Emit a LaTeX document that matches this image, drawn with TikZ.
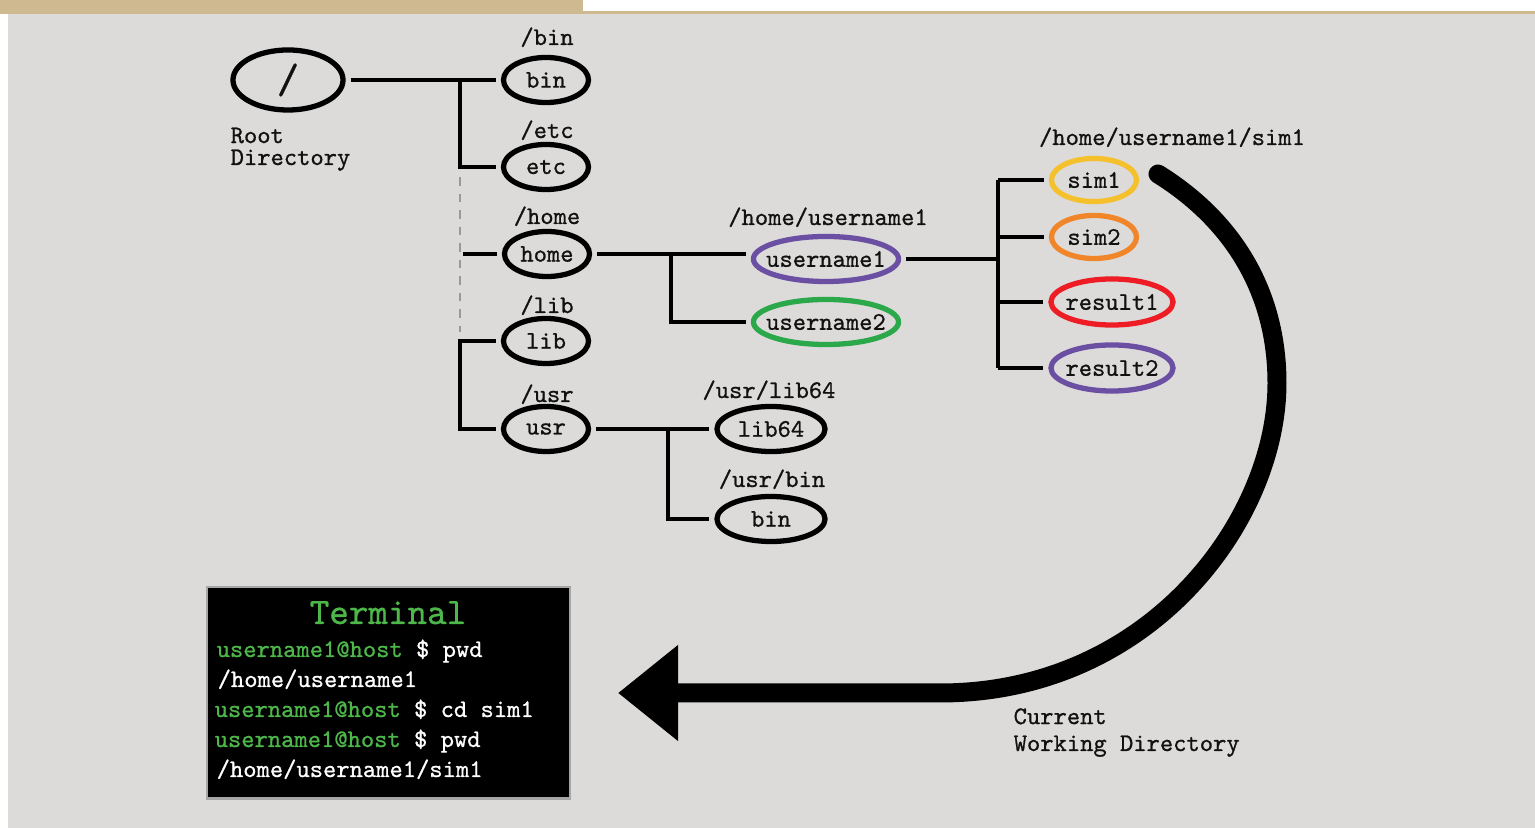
\documentclass[tikz,border=0pt]{standalone}
\usepackage{fontspec}
\newfontfamily\mono{lmmono10-regular.otf}[FakeBold=0.8]
\usetikzlibrary{shapes.geometric,arrows.meta}
\definecolor{bgray}{HTML}{DCDBD9}
\definecolor{tan}{HTML}{CFB991}
\definecolor{cyellow}{HTML}{F4C12C}
\definecolor{corange}{HTML}{F1852A}
\definecolor{cred}{HTML}{EE1C25}
\definecolor{cpurple}{HTML}{6A4FA3}
\definecolor{cgreen}{HTML}{2AA84A}
\definecolor{tgreen}{HTML}{4DB74A}
\definecolor{ink}{HTML}{111111}
\newcommand{\nt}[1]{\makebox[0pt]{#1}}
\tikzset{
  dirnode/.style={ellipse, draw=black, line width=1.5pt, inner sep=0pt,
    minimum width=0.85cm, minimum height=0.45cm, text=ink,
    font=\mono\fontsize{7.2}{8}\selectfont},
  conn/.style={line width=1pt, draw=black},
  tonode/.style={shorten >=0.05cm},
  fromnode/.style={shorten <=0.05cm},
  lbl/.style={anchor=base, inner sep=0pt, text=ink, font=\mono\fontsize{7.2}{8}\selectfont},
  termline/.style={anchor=base west, inner sep=0pt, text=white, font=\mono\fontsize{7.2}{8}\selectfont},
  dashline/.style={line width=0.6pt, draw=gray!80, dash pattern=on 2.5pt off 2.2pt},
  bigarrow/.style={line width=5.4pt, draw=black, line cap=round,
    -{Triangle[length=0.6cm,width=0.92cm]}},
}
\begin{document}
\begin{tikzpicture}[x=0.01cm, y=-0.01cm]
\useasboundingbox (0,0) rectangle (1535,828);
% background
\fill[white] (0,0) rectangle (1535,828);
\fill[bgray] (8,14) rectangle (1535,828);
\fill[tan] (0,0) rectangle (583,14);
\fill[tan] (583,11) rectangle (1535,14);

% nodes
\node[dirnode, minimum width=1.10cm, minimum height=0.60cm, font=\mono\fontsize{12}{12}\selectfont] (root) at (288,80) {\nt{/}};
\node[dirnode] (bin) at (546,80) {\nt{bin}};
\node[dirnode] (etc) at (546,167) {\nt{etc}};
\node[dirnode] (home) at (547,254) {\nt{home}};
\node[dirnode] (lib) at (546,341) {\nt{lib}};
\node[dirnode] (usr) at (546,429) {\nt{usr}};
\node[dirnode, draw=cpurple, minimum width=1.45cm] (u1) at (826,259) {\nt{username1}};
\node[dirnode, draw=cgreen, minimum width=1.45cm] (u2) at (826,322) {\nt{username2}};
\node[dirnode, minimum width=1.08cm] (lib64) at (771,429) {\nt{lib64}};
\node[dirnode, minimum width=1.08cm] (ubin) at (771,519) {\nt{bin}};
\node[dirnode, draw=cyellow, minimum height=0.43cm] (sim1) at (1094,180) {\nt{sim1}};
\node[dirnode, draw=corange, minimum height=0.43cm] (sim2) at (1094,237) {\nt{sim2}};
\node[dirnode, draw=cred, minimum width=1.22cm, minimum height=0.46cm] (res1) at (1112,302) {\nt{result1}};
\node[dirnode, draw=cpurple, minimum width=1.22cm, minimum height=0.46cm] (res2) at (1112,368) {\nt{result2}};

% path labels
\node[lbl] (lbin) at (547,45) {/bin};
\node[lbl] (letc) at (547,138) {/etc};
\node[lbl] (lhome) at (547,224) {/home};
\node[lbl] (llib) at (547,313) {/lib};
\node[lbl] (lusr) at (547,402) {/usr};
\node[lbl] (lu1) at (828,225) {/home/username1};
\node[lbl] (llib64) at (769,398) {/usr/lib64};
\node[lbl] (lubin) at (772,487) {/usr/bin};
\node[lbl] (lsim1) at (1172,145) {/home/username1/sim1};
\node[lbl, anchor=base west, align=left, font=\mono\fontsize{7.2}{6.24}\selectfont] (lroot) at (230,165) {Root\\Directory};

% connectors
\coordinate (jr) at (460,80);
\coordinate (d1) at (460,177);
\coordinate (d2) at (460,332);
\coordinate (jh) at (463,254);
\coordinate (jl) at (460,385);
\coordinate (ju) at (671,290);
\coordinate (jb) at (668,470);
\coordinate (js) at (998,270);

\draw[conn, tonode, fromnode] (root.east) -- (bin.west);
\draw[conn, tonode] (jr) |- (etc.west);
\draw[dashline] (d1) -- (d2);
\draw[conn, tonode] (jh) -- (home.west);
\draw[conn, tonode, fromnode] (lib.west) -| (jl) |- (usr.west);
\draw[conn, fromnode, tonode] (home.east) -- (home.east -| u1.west);
\draw[conn, tonode] (ju |- home.east) |- (u2.west);
\draw[conn, fromnode, tonode] (usr.east) -- (lib64.west);
\draw[conn, tonode] (jb |- usr.east) |- (ubin.west);
\draw[conn, fromnode] (u1.east) -- (js |- u1.east);
\draw[conn] (js |- sim1.west) -- (js |- res2.west);
\draw[conn, tonode] (js |- sim1.west) -- (sim1.west);
\draw[conn, tonode] (js |- sim2.west) -- (sim2.west);
\draw[conn, tonode] (js |- res1.west) -- (res1.west);
\draw[conn, tonode] (js |- res2.west) -- (res2.west);

% terminal
\node[draw=gray!70, line width=0.6pt, fill=black, minimum width=3.62cm, minimum height=2.11cm, inner sep=0pt] (term) at (388.5,693) {};
\node[anchor=base, inner sep=0pt, text=tgreen, font=\mono\fontsize{10.6}{12}\selectfont] (ttitle) at (388,624) {Terminal};
\node[termline] (t1) at (216,657) {\textcolor{tgreen}{username1@host} \$ pwd};
\node[termline] (t2) at (217,687) {/home/username1};
\node[termline] (t3) at (214,717) {\textcolor{tgreen}{username1@host} \$ cd sim1};
\node[termline] (t4) at (214,747) {\textcolor{tgreen}{username1@host} \$ pwd};
\node[termline] (t5) at (216,777) {/home/username1/sim1};

% current working directory arrow
\coordinate (cwdA) at (1158,174);
\coordinate (cwdB) at (1277,383);
\coordinate (cwdC) at (940,693);
\coordinate (cwdtip) at (618,693);
\draw[bigarrow] (cwdA) .. controls (1240,225) and (1277,300) .. (cwdB)
  .. controls (1277,520) and (1150,693) .. (cwdC) -- (cwdtip);
\node[lbl, anchor=base west, align=left, font=\mono\fontsize{7.2}{7.65}\selectfont] (lcwd) at (1013,751) {Current\\Working Directory};
\end{tikzpicture}
\end{document}
